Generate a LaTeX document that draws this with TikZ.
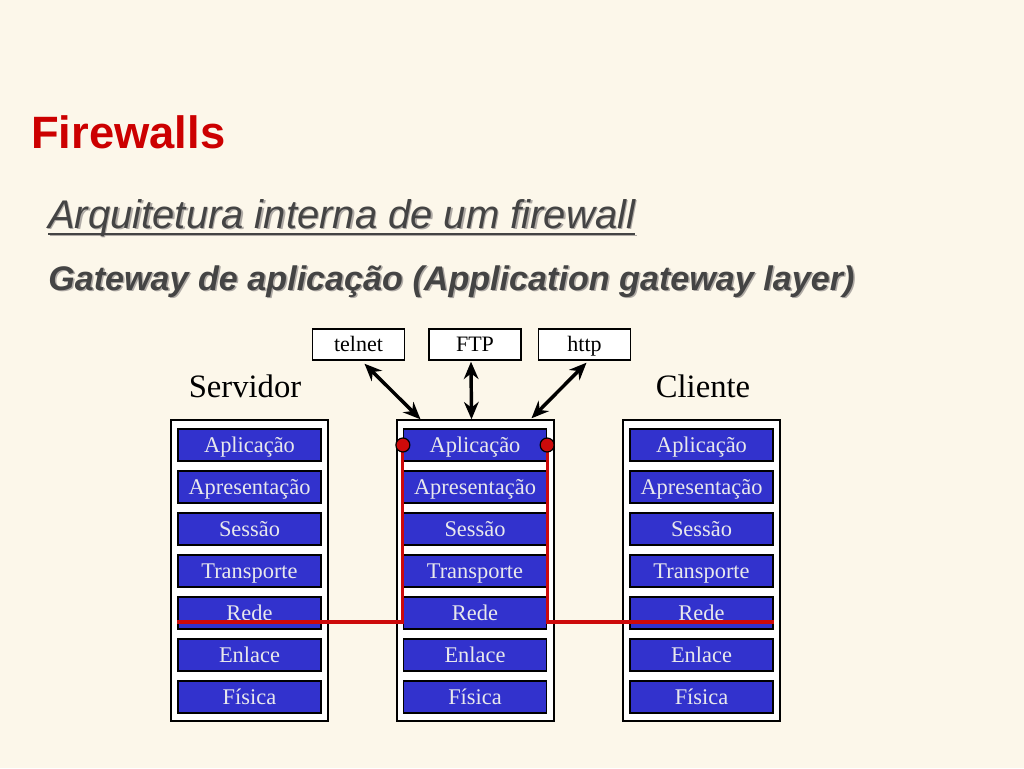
\documentclass[tikz,border=0pt]{standalone}
\usepackage{fontspec}
\setmainfont{Liberation Serif}
\newfontfamily\titlesans{Liberation Sans}
\usetikzlibrary{arrows.meta,calc}
\definecolor{bgcream}{RGB}{252,247,234}
\definecolor{layerblue}{RGB}{50,50,205}
\definecolor{layertext}{RGB}{232,232,236}
\definecolor{titlered}{RGB}{204,0,0}
\definecolor{subgray}{RGB}{68,68,68}
\definecolor{shadowgray}{RGB}{175,170,165}
\definecolor{linered}{RGB}{205,10,10}
\tikzset{
  layer/.style={draw=black, line width=1.2pt, fill=layerblue, text=layertext,
    minimum width=107pt, minimum height=24pt, inner sep=0pt,
    text height=11pt, text depth=0pt,
    font=\fontsize{16.8}{16.8}\selectfont},
  outerbox/.style={draw=black, line width=1.3pt, fill=white,
    minimum width=117.5pt, minimum height=225.5pt, inner sep=0pt},
  protobox/.style={draw=black, line width=1.3pt, fill=white,
    minimum width=69pt, minimum height=23pt, inner sep=0pt,
    text height=11pt, text depth=0pt,
    font=\fontsize{16.5}{16.5}\selectfont},
  hostlabel/.style={font=\fontsize{24.5}{24.5}\selectfont, inner sep=0pt},
  redline/.style={draw=linered, line width=2.3pt},
  reddot/.style={circle, fill=linered, draw=black, line width=0.9pt,
    minimum size=10.5pt, inner sep=0pt},
  dblarrow/.style={line width=2.6pt, {Stealth[length=13pt,width=11pt]}-{Stealth[length=13pt,width=11pt]}},
  uline/.style={line width=1.4pt},
}
\begin{document}
\begin{tikzpicture}[x=0.75pt,y=-0.75pt]
\useasboundingbox[fill=bgcream] (0,0) rectangle (1024,768);

% titles
\node[anchor=base west, inner sep=0pt, text=titlered, font=\titlesans\bfseries\fontsize{34}{34}\selectfont] (title) at (31,148) {Firewalls};
\node[anchor=base west, inner sep=0pt, text=shadowgray, font=\titlesans\itshape\fontsize{30}{30}\selectfont] (subshadow) at (49.5,229.5) {Arquitetura interna de um firewall};
\draw[uline, shadowgray] ($(subshadow.base west)+(0,6)$) -- ($(subshadow.base east)+(0,6)$);
\node[anchor=base west, inner sep=0pt, text=subgray, font=\titlesans\itshape\fontsize{30}{30}\selectfont] (sub) at (48,228) {Arquitetura interna de um firewall};
\draw[uline, subgray] ($(sub.base west)+(0,6)$) -- ($(sub.base east)+(0,6)$);
\node[anchor=base west, inner sep=0pt, text=shadowgray, font=\titlesans\bfseries\itshape\fontsize{25.6}{25.6}\selectfont] (gwshadow) at (49.5,291.5) {Gateway de aplicação (Application gateway layer)};
\node[anchor=base west, inner sep=0pt, text=subgray, font=\titlesans\bfseries\itshape\fontsize{25.6}{25.6}\selectfont] (gw) at (48,290) {Gateway de aplicação (Application gateway layer)};

% protocol boxes
\node[protobox] (telnet) at (358.5,344.5) {telnet};
\node[protobox] (ftp) at (475,344.5) {FTP};
\node[protobox] (http) at (584.5,344.5) {http};

% host labels
\node[hostlabel] (servidor) at (245,386) {Servidor};
\node[hostlabel] (cliente) at (703,386) {Cliente};

% outer boxes
\node[outerbox] (srv) at (249.5,570.5) {};
\node[outerbox] (mid) at (475.5,570.5) {};
\node[outerbox] (cli) at (701.5,570.5) {};

% layers
\foreach \pre/\cx in {s/249.5, m/475, c/701.5}{
  \node[layer] (\pre Apl) at (\cx,445) {Aplicação};
  \node[layer] (\pre Apr) at (\cx,487) {Apresentação};
  \node[layer] (\pre Ses) at (\cx,529) {Sessão};
  \node[layer] (\pre Tra) at (\cx,571) {Transporte};
  \node[layer] (\pre Rede) at (\cx,613) {Rede};
  \node[layer] (\pre Enl) at (\cx,655) {Enlace};
  \node[layer] (\pre Fis) at (\cx,697) {Física};
}

% red path through the gateway
\draw[redline] ($(sRede.west)+(0,9)$) -- ($(mRede.west)+(0,9)$) -- (mApl.west);
\draw[redline] (mApl.east) -- ($(mRede.east)+(0,9)$) -- ($(cRede.east)+(0,9)$);
\node[reddot] (dotL) at (mApl.west) {};
\node[reddot] (dotR) at (mApl.east) {};

% arrows
\draw[dblarrow] ($(telnet.south)+(6,3)$) -- ($(mid.north)+(-55,0)$);
\draw[dblarrow] ($(ftp.south)+(-4,1)$) -- ($(mid.north)+(-4,0)$);
\draw[dblarrow] ($(http.south)+(2,2)$) -- ($(mid.north)+(56,-1)$);
\end{tikzpicture}
\end{document}
